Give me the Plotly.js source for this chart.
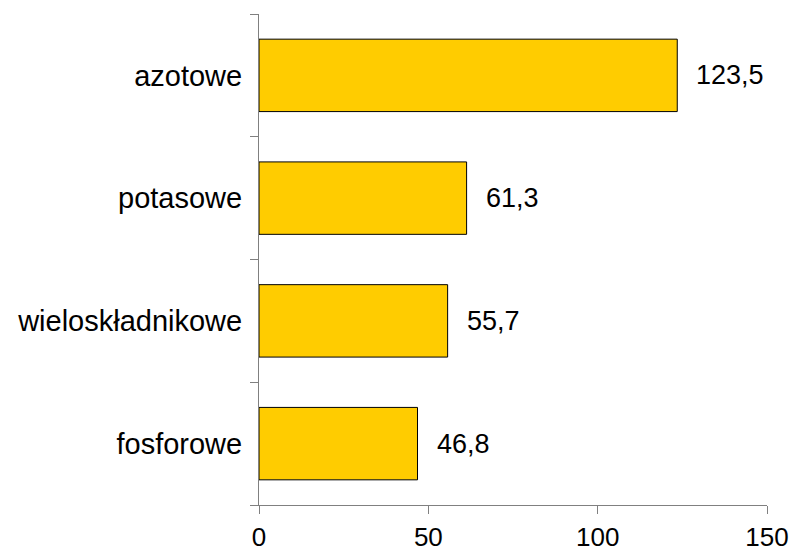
<!DOCTYPE html>
<html><head><meta charset="utf-8">
<script src="https://cdn.plot.ly/plotly-3.0.1.min.js"></script>
<style>body{margin:0;background:#fff}#c{width:795px;height:553px}</style>
</head><body><div id="c"></div>
<script>
const categories = ["fosforowe", "wieloskładnikowe", "potasowe", "azotowe"];
const values = [46.8, 55.7, 61.3, 123.5];
const valueLabels = ["46,8", "55,7", "61,3", "123,5"];
const xTicks = [0, 50, 100, 150];

const FONT = "Liberation Sans, Arial, sans-serif";
const trace = {
  type: "bar", orientation: "h",
  y: categories, x: values,
  marker: {color: "#FFCC00", line: {color: "#000000", width: 1}},
  width: 0.59, hoverinfo: "none"
};
const annotations = categories.map((c, i) => ({
  x: values[i], y: c, xref: "x", yref: "y", text: valueLabels[i],
  showarrow: false, xanchor: "left", xshift: 17,
  font: {family: FONT, size: 27, color: "#000"}
}));
const layout = {
  width: 795, height: 553,
  margin: {l: 259, r: 28, t: 14, b: 48},
  paper_bgcolor: "#fff", plot_bgcolor: "#fff",
  showlegend: false,
  font: {family: FONT, size: 27, color: "#000"},
  xaxis: {range: [0, 150], tickvals: xTicks, ticktext: xTicks.map(String),
    tickfont: {family: FONT, size: 26, color: "#000"},
    showgrid: false, zeroline: false, showline: true, linecolor: "#808080", linewidth: 1,
    ticks: "outside", ticklen: 8, tickcolor: "#808080", ticklabelstandoff: 1, fixedrange: true},
  yaxis: {type: "category", range: [-0.5, 3.5], tickson: "boundaries",
    tickfont: {family: FONT, size: 29, color: "#000"},
    showgrid: false, zeroline: false, showline: true, linecolor: "#808080", linewidth: 1,
    ticks: "outside", ticklen: 8, tickcolor: "#808080", ticklabelstandoff: 10},
  annotations: annotations
};
Plotly.newPlot("c", [trace], layout, {staticPlot: true});
</script></body></html>
